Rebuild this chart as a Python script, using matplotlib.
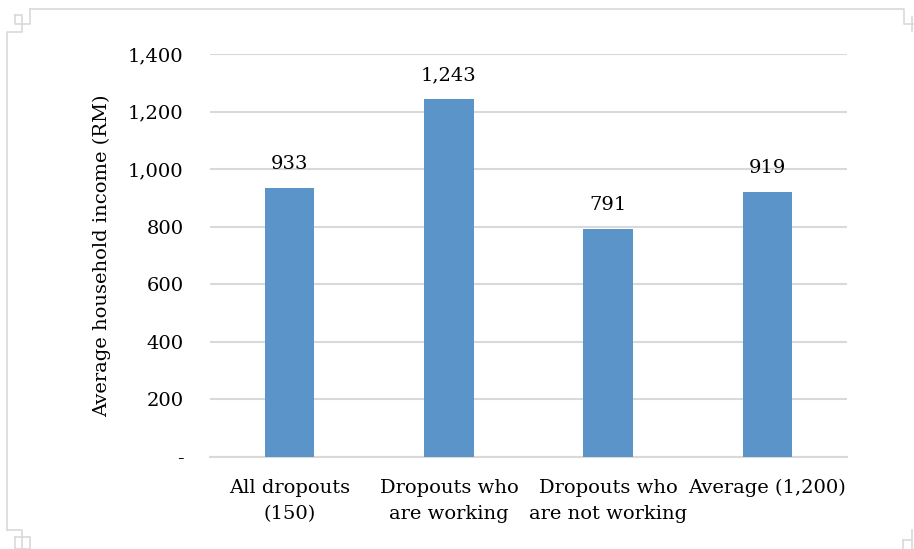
import matplotlib
matplotlib.use("Agg")
import matplotlib.pyplot as plt
from matplotlib.lines import Line2D

categories = ["All dropouts\n(150)", "Dropouts who\nare working", "Dropouts who\nare not working", "Average (1,200)"]
values = [933, 1243, 791, 919]
yticks = [0, 200, 400, 600, 800, 1000, 1200, 1400]
yticklabels = ["-", "200", "400", "600", "800", "1,000", "1,200", "1,400"]

plt.rcParams['font.family'] = ['DejaVu Serif']
W, H = 914, 549
fig = plt.figure(figsize=(W / 100, H / 100), dpi=100)
ax = fig.add_axes([210 / W, 1 - 457 / H, (847 - 210) / W, (457 - 54) / H])

x = range(len(values))
ax.bar(x, values, width=0.31, color='#5B94C8', zorder=3)
ax.set_xlim(-0.5, len(values) - 0.5)
ax.set_ylim(0, 1400)
ax.set_yticks(yticks)
ax.set_yticklabels(yticklabels, fontsize=14)
ax.set_xticks(list(x))
ax.set_xticklabels(categories, fontsize=14, linespacing=1.55)
ax.tick_params(axis='both', length=0)
ax.tick_params(axis='y', pad=19)
ax.tick_params(axis='x', pad=16)
ax.yaxis.grid(True, color='#D9D9D9', linewidth=1.5, zorder=0)
for s in ['top', 'right', 'left']:
    ax.spines[s].set_visible(False)
ax.spines['bottom'].set_color('#D9D9D9')
ax.spines['bottom'].set_linewidth(1.5)
ax.set_ylabel("Average household income (RM)", fontsize=14, labelpad=12)

for xi, v in zip(x, values):
    ax.annotate(f"{v:,}", (xi, v), xytext=(0, 11), textcoords='offset points',
                ha='center', va='bottom', fontsize=14)

# page crop-mark frame decoration
c = '#D9D9D9'
def seg(xs, ys):
    fig.add_artist(Line2D([p / W for p in xs], [1 - p / H for p in ys],
                          transform=fig.transFigure, color=c, linewidth=1.2))
seg([30, 904, 904, 914], [9, 9, 24, 24])
seg([912, 912], [17, 31])
seg([30, 30, 22, 22, 7, 7], [9, 24, 24, 32, 32, 530])
seg([15, 22, 22, 15, 15], [15, 15, 24, 24, 15])
seg([7, 22, 22], [530, 530, 549])
seg([15, 30, 30, 15, 15], [537, 537, 549, 549, 537])
seg([912, 912], [530, 549])
seg([903, 912], [540, 540])
seg([903, 903], [540, 549])

fig.savefig("out.png", dpi=100)
